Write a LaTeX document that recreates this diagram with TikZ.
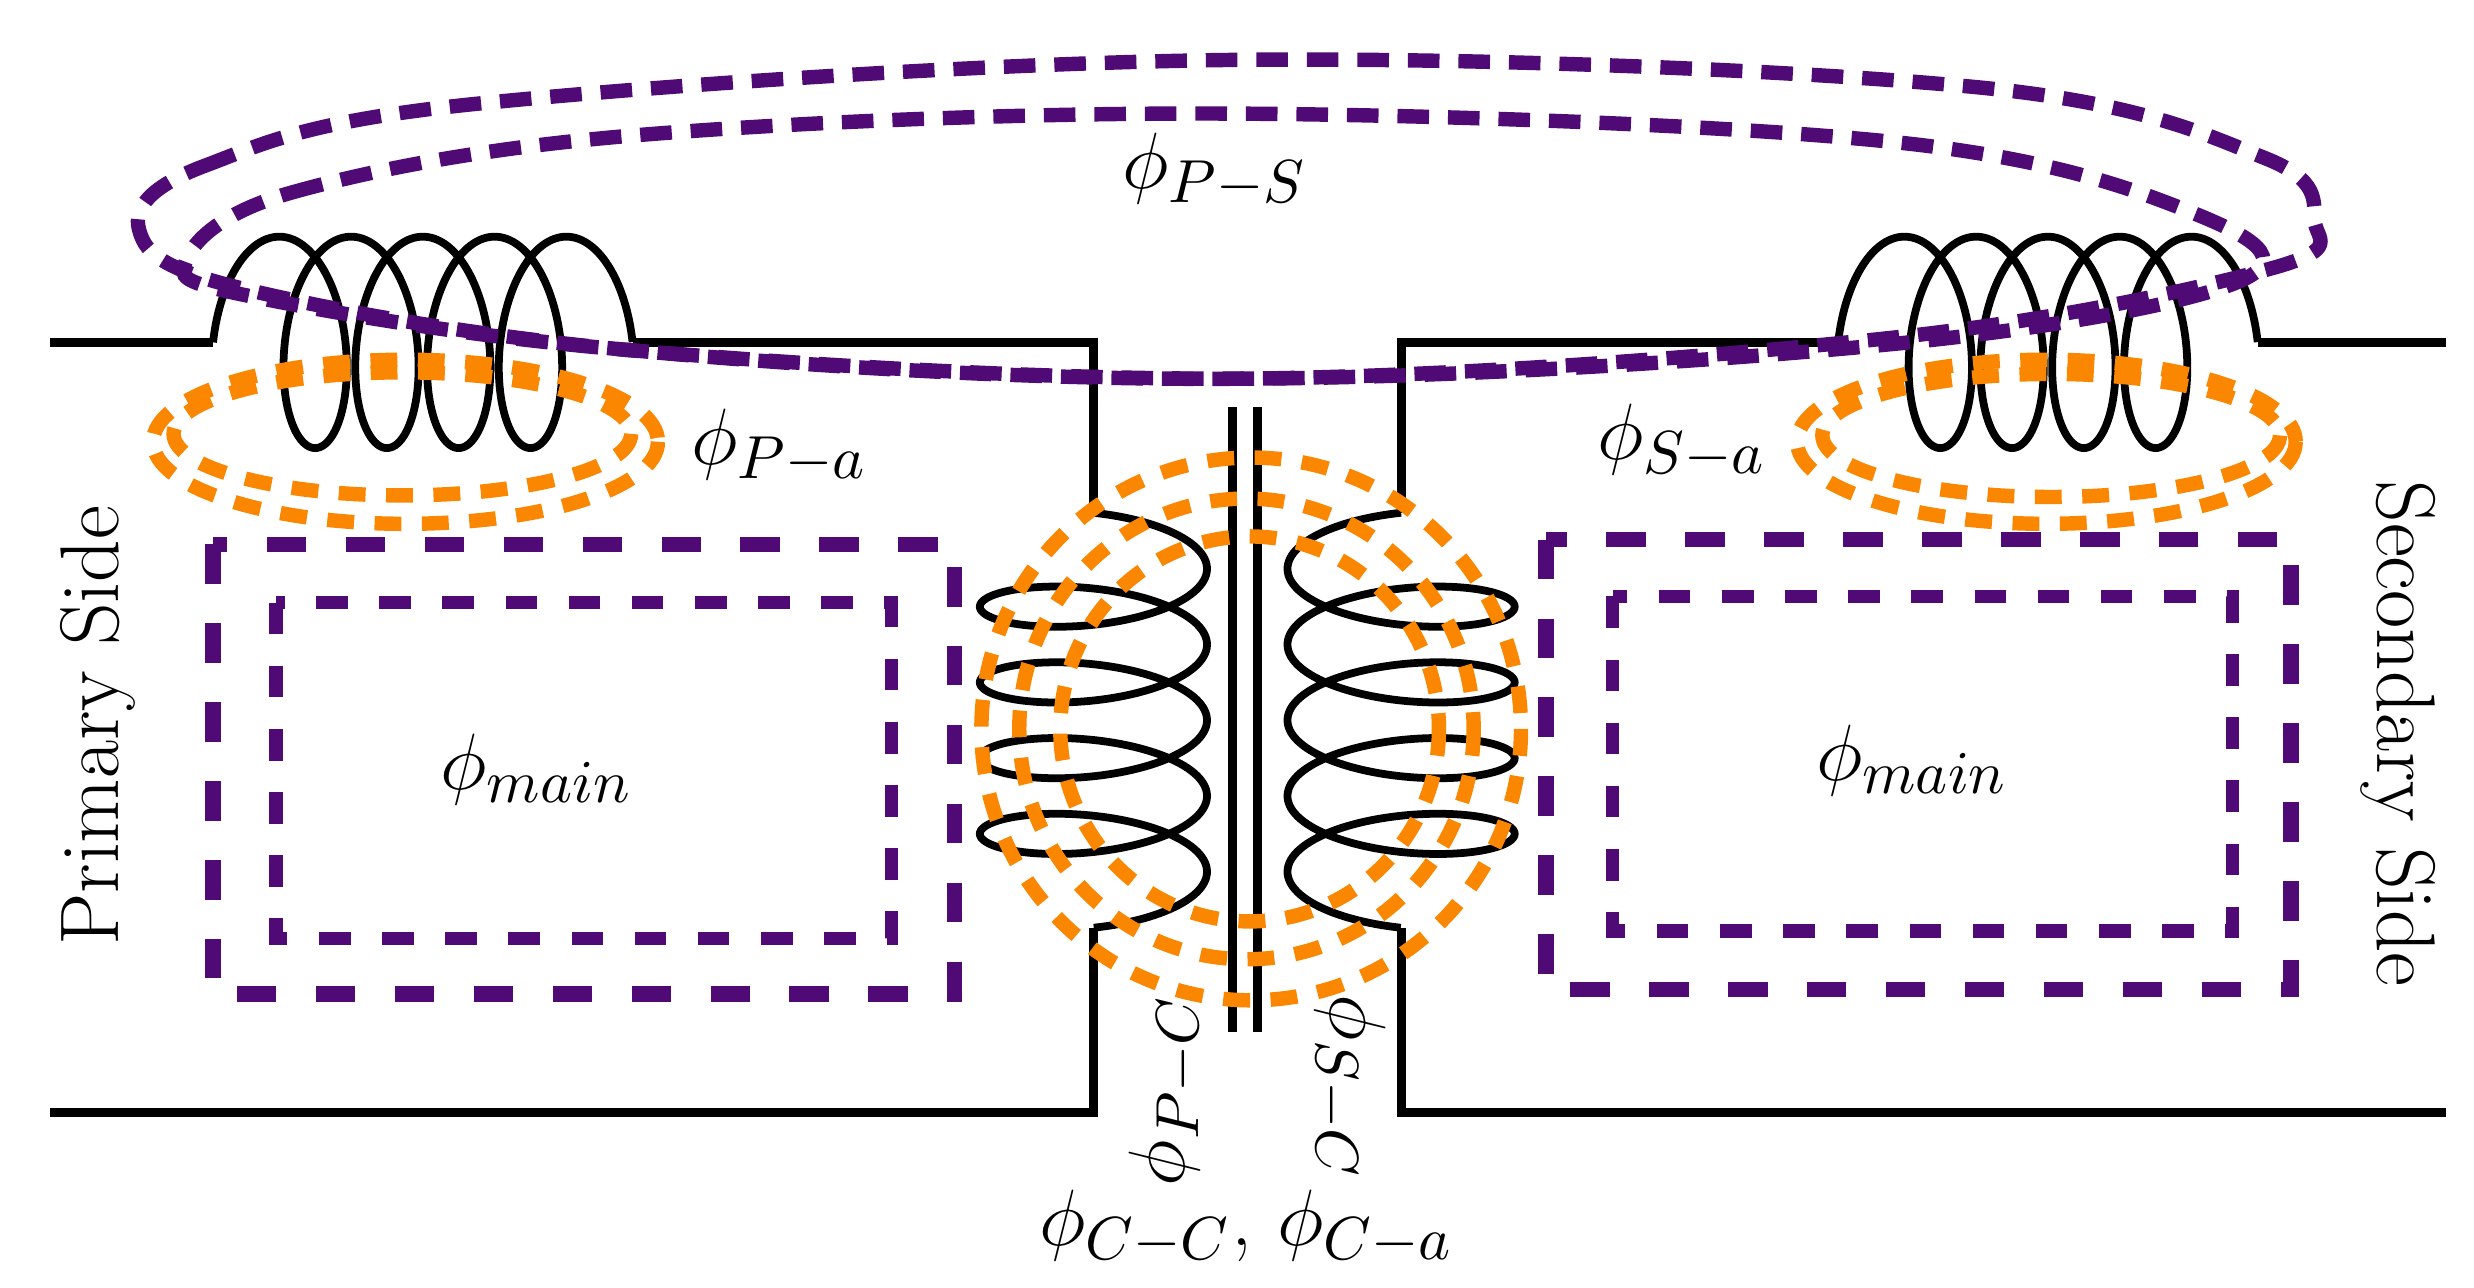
\documentclass[tikz,border=0pt]{standalone}
\usepackage{amsmath}
\definecolor{pur}{RGB}{80,10,118}
\definecolor{org}{RGB}{251,134,0}
\begin{document}
\begin{tikzpicture}[x=0.01cm,y=-0.01cm,
  core/.style={black,line width=1.6pt},
  wire/.style={black,line width=1.4pt},
  pbox/.style={pur,line width=2.8pt,dash pattern=on 0.25cm off 0.25cm},
  pbin/.style={pur,line width=2.4pt,dash pattern=on 0.2cm off 0.2cm},
  ploop/.style={pur,line width=2.6pt,dash pattern=on 0.2cm off 0.12cm},
  oring/.style={org,line width=2.6pt,dash pattern=on 0.17cm off 0.13cm},
  lbl/.style={font=\fontsize{15}{18}\selectfont}]
\useasboundingbox (0,0) rectangle (1568,816);
% core outline
\draw[core] (32,217) -- (135,217);
\draw[core] (401,217) -- (693,217) -- (693,325);
\draw[core] (693,588) -- (693,705) -- (32,705);
\draw[core] (1550,217) -- (1431,217);
\draw[core] (1165,217) -- (888,217) -- (888,325);
\draw[core] (888,588) -- (888,705) -- (1550,705);
% top coils
\draw[wire] plot[samples=500,domain=-pi/2:8.5*pi,variable=\t] ({177+7.24*\t+30.6*sin(\t r)},{217-67*cos(\t r)});
\draw[wire] plot[samples=500,domain=-pi/2:8.5*pi,variable=\t] ({1207+7.24*\t+30.6*sin(\t r)},{217-67*cos(\t r)});
% central coils
\draw[wire] plot[samples=500,domain=0:9*pi,variable=\t] ({693+72*sin(\t r)},{325+7.64*\t+23.5*(1-cos(\t r))});
\draw[wire] plot[samples=500,domain=0:9*pi,variable=\t] ({888-72*sin(\t r)},{325+7.64*\t+23.5*(1-cos(\t r))});
% central bars
\draw[core] (781,258) -- (781,654);
\draw[core] (797,258) -- (797,654);
% orange fluxes
\draw[oring] (257,280) ellipse [x radius=160,y radius=52];
\draw[oring] (255,275) ellipse [x radius=145,y radius=39];
\draw[oring] (1297,280) ellipse [x radius=158,y radius=52];
\draw[oring] (1300,276) ellipse [x radius=145,y radius=39];
\draw[oring] (793,462) ellipse [x radius=171,y radius=172];
\draw[oring] (790,462) ellipse [x radius=144,y radius=146];
\draw[oring] (792,462) ellipse [x radius=120,y radius=122];
% purple main flux boxes
\draw[pbox] (135,345) rectangle (605,630);
\draw[pbin] (175,382) rectangle (565,595);
\draw[pbox] (980,342) rectangle (1452,627);
\draw[pbin] (1022,378) rectangle (1415,590);
% purple P-S loops
\draw[ploop] plot[smooth cycle,tension=0.6] coordinates {(88,145) (130,105) (300,66) (780,38) (1250,55) (1435,100) (1467,140) (1440,170) (1200,214) (790,240) (400,222) (150,182)};
\draw[ploop] plot[smooth cycle,tension=0.6] coordinates {(118,165) (185,122) (400,86) (780,72) (1200,90) (1390,135) (1420,178) (1200,218) (790,240) (400,222) (160,188)};
% labels
\node[lbl] (lps) at (770,108) {$\phi_{P-S}$};
\node[lbl] (lpa) at (494,283) {$\phi_{P-a}$};
\node[lbl] (lsa) at (1066,280) {$\phi_{S-a}$};
\node[lbl] (lm1) at (340,488) {$\phi_{main}$};
\node[lbl] (lm2) at (1212,482) {$\phi_{main}$};
\node[lbl,rotate=90] (lpc) at (739,691) {$\phi_{P-C}$};
\node[lbl,rotate=-90] (lsc) at (855,689) {$\phi_{S-C}$};
\node[lbl] (lcc) at (790,778) {$\phi_{C-C}$, $\phi_{C-a}$};
\node[lbl,rotate=90] (prim) at (62,460) {Primary Side};
\node[lbl,rotate=-90] (sec) at (1520,465) {Secondary Side};
\end{tikzpicture}
\end{document}
